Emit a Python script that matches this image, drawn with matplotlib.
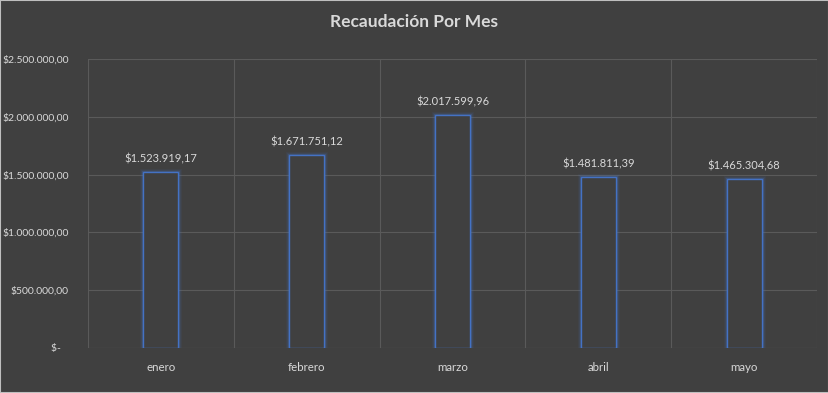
import matplotlib.pyplot as plt
import numpy as np

meses = ['enero', 'febrero', 'marzo', 'abril', 'mayo']
recaudacion = [1523919.17, 1671751.12, 2017599.96, 1481811.39, 1465304.68]
y_ticks = [0, 500000, 1000000, 1500000, 2000000, 2500000]

BG = '#404040'
GRID = '#5a5a5a'
TXT = '#d9d9d9'
BLUE = '#4472c4'

plt.rcParams['font.family'] = ['Lato', 'DejaVu Sans']


def fmt_money(v):
    if v == 0:
        return '$-   '
    s = f'{v:,.2f}'
    s = s.replace(',', 'X').replace('.', ',').replace('X', '.')
    return '$' + s


fig = plt.figure(figsize=(8.29, 3.93), dpi=100, facecolor=BG)
ax = fig.add_axes([88 / 829, 1 - 348 / 393, (817 - 88) / 829, (348 - 59) / 393])
ax.set_facecolor(BG)

x = np.arange(len(meses))
w = 0.24
# glow around the bar outlines
for lw, a in [(5, 0.07), (3.5, 0.12), (2.2, 0.25)]:
    ax.bar(x, recaudacion, width=w, facecolor='none', edgecolor=BLUE,
           linewidth=lw, alpha=a, zorder=2)
ax.bar(x, recaudacion, width=w, facecolor=BG, edgecolor=BLUE, linewidth=1.0, zorder=3)

for xi, v in zip(x, recaudacion):
    ax.text(xi, v + 60000, fmt_money(v), ha='center', va='bottom',
            color=TXT, fontsize=8, zorder=4)

ax.set_xlim(-0.5, len(meses) - 0.5)
ax.set_ylim(0, 2500000)
ax.set_yticks(y_ticks)
ax.set_yticklabels([fmt_money(v) for v in y_ticks])
ax.set_xticks(x)
ax.set_xticklabels(meses)
ax.set_xticks(np.arange(len(meses) + 1) - 0.5, minor=True)

ax.grid(True, axis='y', which='major', color=GRID, linewidth=0.8, zorder=0)
ax.grid(True, axis='x', which='minor', color=GRID, linewidth=0.8, zorder=0)
ax.tick_params(axis='both', which='both', length=0, colors=TXT, labelsize=8.3)
ax.tick_params(axis='y', labelsize=7.5, pad=14)
ax.tick_params(axis='x', pad=10)
for s in ax.spines.values():
    s.set_visible(False)
ax.axhline(0, color=GRID, linewidth=0.8, zorder=1)

fig.text(0.5, 1 - 22 / 393, 'Recaudación Por Mes', ha='center', va='center',
         color=TXT, fontsize=12.5, fontweight='bold')

fig.patches.append(plt.Rectangle((0, 0), 1, 1, transform=fig.transFigure,
                                 fill=False, edgecolor='#bfbfbf', linewidth=1.5))

fig.savefig('out.png', dpi=100, facecolor=BG)
